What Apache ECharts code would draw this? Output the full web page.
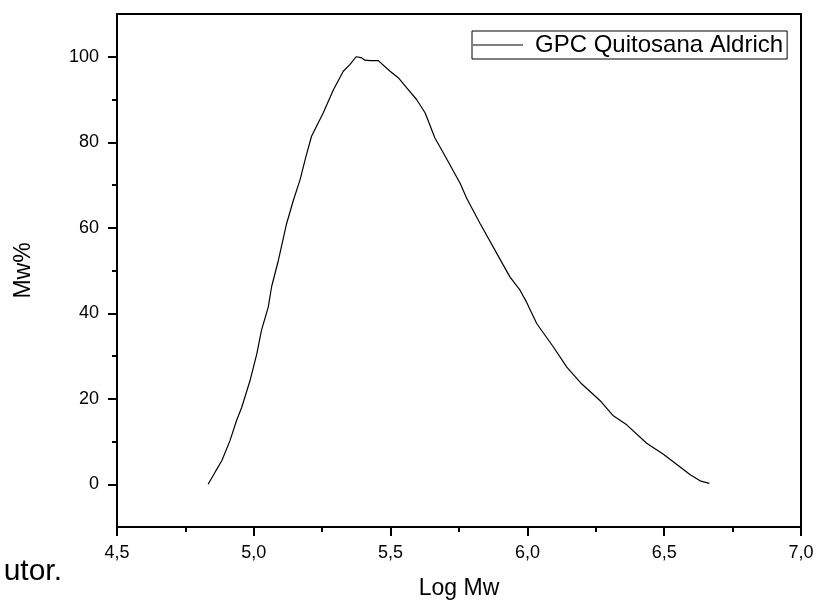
<!DOCTYPE html>
<html>
<head>
<meta charset="utf-8">
<script src="https://cdn.jsdelivr.net/npm/echarts@6/dist/echarts.min.js"></script>
<style>
  html, body { margin: 0; padding: 0; background: #fff; }
  #chart { width: 819px; height: 603px; }
</style>
</head>
<body>
<div id="chart"></div>
<script>
// GPC curve
const logMw = [4.833, 4.860, 4.883, 4.913, 4.937, 4.956, 4.986, 5.011, 5.028, 5.053,
  5.065, 5.090, 5.120, 5.145, 5.169, 5.190, 5.211, 5.254, 5.291, 5.327,
  5.352, 5.374, 5.392, 5.406, 5.425, 5.455, 5.498, 5.528, 5.559, 5.595,
  5.626, 5.662, 5.693, 5.754, 5.778, 5.827, 5.888, 5.936, 5.973, 5.997,
  6.034, 6.095, 6.144, 6.198, 6.265, 6.314, 6.363, 6.436, 6.497, 6.545,
  6.594, 6.631, 6.665];
const mwPct = [0, 3.0, 5.5, 10.2, 14.9, 18.0, 24.2, 30.5, 36.0, 41.5,
  46.2, 52.4, 61.0, 66.5, 71.2, 76.5, 81.4, 86.9, 92.3, 96.6,
  98.2, 100.0, 99.8, 99.2, 99.1, 99.1, 96.6, 95.1, 92.7, 90.0,
  86.9, 81.0, 77.5, 70.4, 66.9, 61.0, 54.0, 48.5, 45.4, 42.6,
  37.6, 32.1, 27.4, 23.5, 19.6, 16.0, 13.9, 9.6, 7.0, 4.7,
  2.3, 0.8, 0.2];
const yMajorTicks = [0, 20, 40, 60, 80, 100];
const yMinorTicks = [10, 30, 50, 70, 90];
const seriesName = 'GPC Quitosana Aldrich';

const font = 'Liberation Sans, Arial, sans-serif';
const black = '#000';

let myChart = echarts.init(document.getElementById('chart'));
myChart.setOption({
  animation: false,
  textStyle: { fontFamily: font, color: black },
  grid: { left: 117, right: 18, top: 14, bottom: 76, outerBoundsMode: 'none' },
  legend: {
    left: 472,
    top: 31,
    borderColor: black,
    borderWidth: 1,
    borderRadius: 0,
    padding: [2, 4, 2, 1],
    icon: 'rect',          // plain line sample, no marker dot
    itemWidth: 50,
    itemHeight: 1,
    itemStyle: { color: black },
    textStyle: { fontSize: 24, color: black, fontFamily: font, padding: [0, 0, 0, 7] },
    data: [seriesName]
  },
  xAxis: [
    {
      type: 'value',
      position: 'bottom',
      min: 4.5,
      max: 7.0,
      interval: 0.5,
      name: 'Log Mw',
      nameLocation: 'middle',
      nameGap: 50,
      nameTextStyle: { fontSize: 23, color: black, fontFamily: font },
      axisLine: { onZero: false, lineStyle: { color: black, width: 2 } },
      axisTick: { length: 9, lineStyle: { color: black, width: 2 } },
      minorTick: { show: true, splitNumber: 2, length: 5, lineStyle: { color: black, width: 2 } },
      axisLabel: {
        fontSize: 18, color: black, margin: 17,
        formatter: v => v.toFixed(1).replace('.', ',')
      },
      splitLine: { show: false }
    },
    {
      type: 'value',
      position: 'top',
      min: 4.5,
      max: 7.0,
      interval: 0.5,
      axisLine: { onZero: false, lineStyle: { color: black, width: 2 } },
      axisTick: { show: false },
      axisLabel: { show: false },
      splitLine: { show: false }
    }
  ],
  yAxis: [
    {
      type: 'value',
      position: 'left',
      min: -10,
      max: 110,
      name: 'Mw%',
      nameLocation: 'middle',
      nameGap: 82,
      nameTextStyle: { fontSize: 23, color: black, fontFamily: font },
      axisLine: { onZero: false, lineStyle: { color: black, width: 2 } },
      axisTick: { length: 9, customValues: yMajorTicks, lineStyle: { color: black, width: 2 } },
      axisLabel: { fontSize: 18, color: black, margin: 18, customValues: yMajorTicks },
      splitLine: { show: false }
    },
    {
      type: 'value',
      position: 'left',
      min: -10,
      max: 110,
      axisLine: { show: false, onZero: false },
      axisTick: { length: 5, customValues: yMinorTicks, lineStyle: { color: black, width: 2 } },
      axisLabel: { show: false, customValues: yMinorTicks },
      splitLine: { show: false }
    },
    {
      type: 'value',
      position: 'right',
      min: -10,
      max: 110,
      axisLine: { show: true, onZero: false, lineStyle: { color: black, width: 2 } },
      axisTick: { show: false },
      axisLabel: { show: false },
      splitLine: { show: false }
    }
  ],
  graphic: [
    {
      type: 'text',
      x: 62,
      y: 572,
      style: { text: 'utor.', fontSize: 30, fontFamily: font, fill: black, align: 'right', verticalAlign: 'middle' }
    }
  ],
  series: [
    {
      name: seriesName,
      type: 'line',
      xAxisIndex: 0,
      yAxisIndex: 0,
      showSymbol: false,
      symbol: 'none',
      lineStyle: { color: black, width: 1.2 },
      itemStyle: { color: black },
      data: logMw.map((x, i) => [x, mwPct[i]])
    }
  ]
});
</script>
</body>
</html>
